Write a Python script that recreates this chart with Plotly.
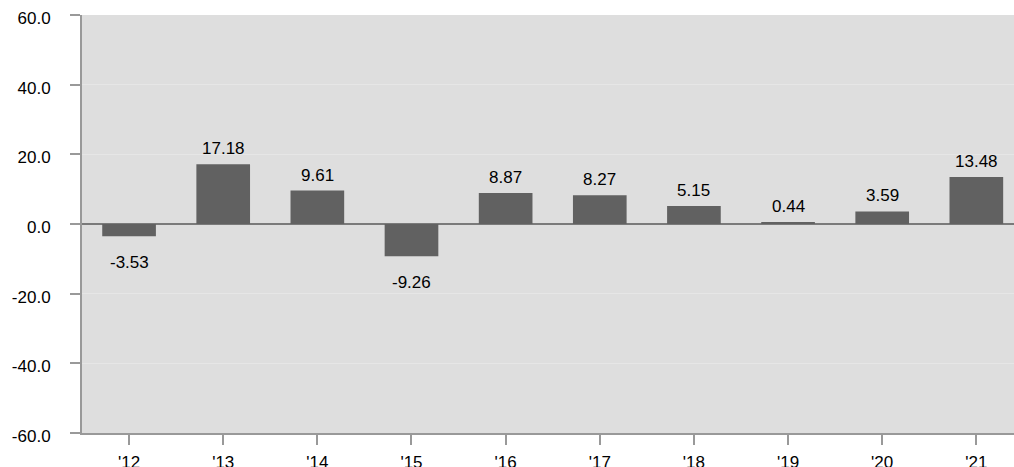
import plotly.graph_objects as go

# Annual returns by year
years = ["'12", "'13", "'14", "'15", "'16", "'17", "'18", "'19", "'20", "'21"]
returns = [-3.53, 17.18, 9.61, -9.26, 8.87, 8.27, 5.15, 0.44, 3.59, 13.48]
y_ticks = [-60, -40, -20, 0, 20, 40, 60]

FONT = "Liberation Sans, Arial, Helvetica, sans-serif"
x_idx = list(range(len(years)))

fig = go.Figure(
    go.Bar(
        x=x_idx,
        y=returns,
        width=0.57,
        marker=dict(color="#616161", line=dict(width=0)),
        hoverinfo="skip",
    )
)

# Value labels above positive bars and below negative ones
for i, v in zip(x_idx, returns):
    fig.add_annotation(
        x=i,
        y=v,
        text=f"{v:.2f}",
        showarrow=False,
        yanchor="bottom" if v >= 0 else "top",
        yshift=4 if v >= 0 else -15,
        font=dict(family=FONT, size=17, color="#000000"),
    )

fig.update_layout(
    width=1014,
    height=467,
    margin=dict(l=82, r=0, t=15, b=34, autoexpand=False),
    paper_bgcolor="white",
    plot_bgcolor="#dedede",
    showlegend=False,
    bargap=0.43,
    font=dict(family=FONT, size=17, color="#000000"),
)

fig.update_xaxes(
    range=[-0.5, 9.40],
    tickmode="array",
    tickvals=x_idx,
    ticktext=years,
    ticks="outside",
    ticklen=10,
    tickwidth=2,
    tickcolor="#999999",
    showline=True,
    linecolor="#999999",
    linewidth=2,
    showgrid=False,
    zeroline=False,
    automargin=False,
    ticklabelstandoff=3,
    tickfont=dict(family=FONT, size=17, color="#000000"),
)

fig.update_yaxes(
    range=[-60, 60],
    tickmode="array",
    tickvals=y_ticks,
    ticktext=[f"{t:.1f}" for t in y_ticks],
    ticks="outside",
    ticklen=10,
    tickwidth=2,
    tickcolor="#999999",
    showline=True,
    linecolor="#999999",
    linewidth=2,
    showgrid=True,
    gridcolor="#e6e6e6",
    gridwidth=1,
    zeroline=True,
    zerolinecolor="#7a7a7a",
    zerolinewidth=2,
    automargin=False,
    ticklabelstandoff=16,
    ticklabelshift=3,
    tickfont=dict(family=FONT, size=17, color="#000000"),
)

fig.write_html("out.html")
